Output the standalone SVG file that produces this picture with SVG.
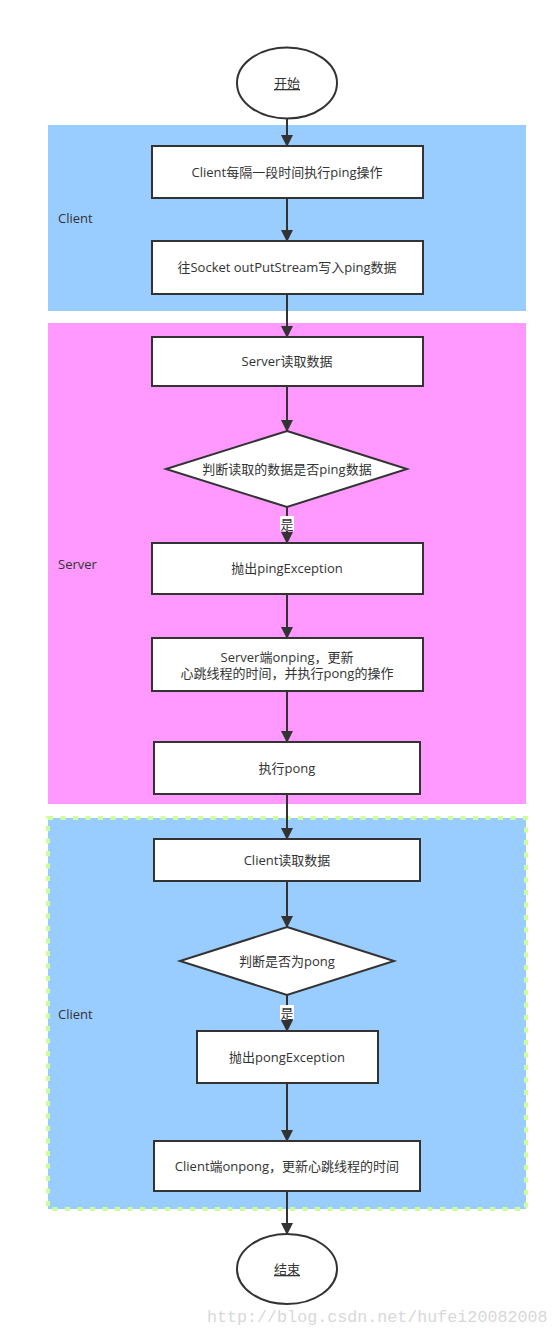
<svg xmlns="http://www.w3.org/2000/svg" width="558" height="1336" viewBox="0 0 558 1336">
<style>
.t{font-family:"Open Sans","Noto Sans CJK SC",sans-serif;font-size:13px;fill:#333;text-anchor:middle}
.lab{font-family:"Open Sans","Noto Sans CJK SC",sans-serif;font-size:13px;fill:#333}
.box{fill:#fff;stroke:#333;stroke-width:2}
.c{stroke:#333;stroke-width:2;fill:none}
</style>
<defs>
<marker id="ah" markerUnits="userSpaceOnUse" markerWidth="12" markerHeight="14" refX="11" refY="6" orient="auto">
<path d="M0,0 L12,6 L0,12 Z" fill="#333"/>
</marker>
</defs>
<rect width="558" height="1336" fill="#fff"/>
<g id="lane-client1">
<rect x="48" y="125" width="478" height="186" fill="#99CCFF"/>
<text class="lab" x="58" y="223">Client</text>
</g>
<g id="lane-server">
<rect x="48" y="323" width="478" height="481" fill="#FF99FF"/>
<text class="lab" x="58" y="569">Server</text>
</g>
<g id="lane-client2">
<rect x="48" y="818" width="478" height="391" fill="#99CCFF" stroke="#CCFF99" stroke-width="4" stroke-dasharray="5 7.5"/>
<text class="lab" x="58" y="1019">Client</text>
</g>
<g id="connectors">
<line class="c" x1="287" y1="118" x2="287" y2="146" marker-end="url(#ah)"/>
<line class="c" x1="287" y1="198" x2="287" y2="241" marker-end="url(#ah)"/>
<line class="c" x1="287" y1="294" x2="287" y2="337" marker-end="url(#ah)"/>
<line class="c" x1="287" y1="386" x2="287" y2="431" marker-end="url(#ah)"/>
<line class="c" x1="287" y1="507" x2="287" y2="543" marker-end="url(#ah)"/>
<line class="c" x1="287" y1="594" x2="287" y2="638" marker-end="url(#ah)"/>
<line class="c" x1="287" y1="691" x2="287" y2="742" marker-end="url(#ah)"/>
<line class="c" x1="287" y1="794" x2="287" y2="839" marker-end="url(#ah)"/>
<line class="c" x1="287" y1="881" x2="287" y2="927" marker-end="url(#ah)"/>
<line class="c" x1="287" y1="995" x2="287" y2="1031" marker-end="url(#ah)"/>
<line class="c" x1="287" y1="1083" x2="287" y2="1141" marker-end="url(#ah)"/>
<line class="c" x1="287" y1="1191" x2="287" y2="1234" marker-end="url(#ah)"/>
<rect x="280" y="516" width="14" height="15" fill="#fff"/>
<text class="t" x="287" y="529">是</text>
<rect x="280" y="1005" width="14" height="15" fill="#fff"/>
<text class="t" x="287" y="1018">是</text>
</g>
<g id="start">
<ellipse cx="287" cy="83" rx="50" ry="35.5" class="box"/>
<text class="t" x="287" y="88" text-decoration="underline">开始</text>
</g>
<g id="n1">
<rect x="152" y="146" width="271" height="52" class="box"/>
<text class="t" x="287" y="177">Client每隔一段时间执行ping操作</text>
</g>
<g id="n2">
<rect x="152" y="241" width="271" height="53" class="box"/>
<text class="t" x="287" y="272">往Socket outPutStream写入ping数据</text>
</g>
<g id="n3">
<rect x="152" y="337" width="271" height="49" class="box"/>
<text class="t" x="287" y="366">Server读取数据</text>
</g>
<g id="d1">
<polygon points="287,431 407,469 287,507 166,469" class="box"/>
<text class="t" x="287" y="474">判断读取的数据是否ping数据</text>
</g>
<g id="n4">
<rect x="152" y="543" width="271" height="51" class="box"/>
<text class="t" x="287" y="573">抛出pingException</text>
</g>
<g id="n5">
<rect x="152" y="638" width="271" height="53" class="box"/>
<text class="t" x="287" y="662">Server端onping，更新</text>
<text class="t" x="287" y="678">心跳线程的时间，并执行pong的操作</text>
</g>
<g id="n6">
<rect x="154" y="742" width="266" height="52" class="box"/>
<text class="t" x="287" y="773">执行pong</text>
</g>
<g id="n7">
<rect x="154" y="839" width="266" height="42" class="box"/>
<text class="t" x="287" y="865">Client读取数据</text>
</g>
<g id="d2">
<polygon points="287,927 394,961 287,995 180,961" class="box"/>
<text class="t" x="287" y="966">判断是否为pong</text>
</g>
<g id="n8">
<rect x="197" y="1031" width="181" height="52" class="box"/>
<text class="t" x="287" y="1062">抛出pongException</text>
</g>
<g id="n9">
<rect x="154" y="1141" width="266" height="50" class="box"/>
<text class="t" x="287" y="1171">Client端onpong，更新心跳线程的时间</text>
</g>
<g id="end">
<ellipse cx="287" cy="1269" rx="50" ry="35" class="box"/>
<text class="t" x="287" y="1274" text-decoration="underline">结束</text>
</g>
<text x="207" y="1322" font-family="Liberation Mono, monospace" font-size="16.7" fill="#D8D8D8">http://blog.csdn.net/hufei20082008</text>
</svg>
